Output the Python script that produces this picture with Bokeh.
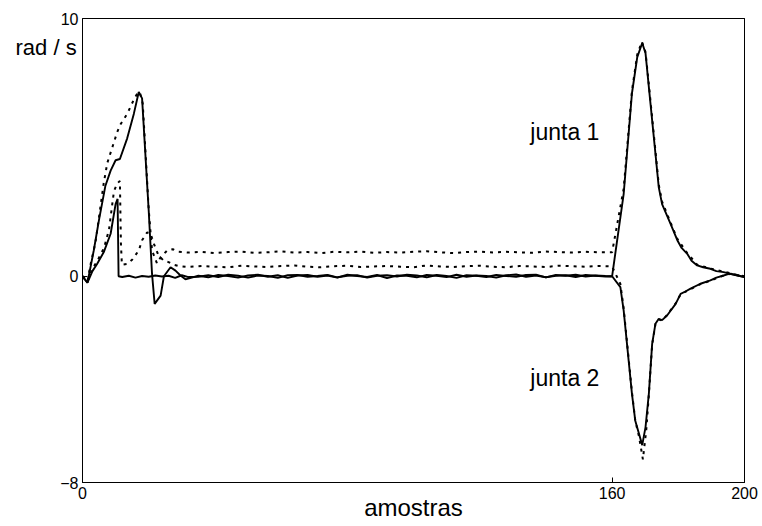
from bokeh.plotting import figure
from bokeh.models import Range1d, FixedTicker, LinearAxis, Label
from bokeh.embed import file_html
from bokeh.resources import INLINE

FONT = "Liberation Sans"

x_ticks = [0, 160, 200]
y_ticks = [-8, 0, 10]

# ---- shared sample positions for the quiet stretch ----
solid_flat_x = [35, 38, 41, 44, 47, 50, 53, 56, 59, 62, 65, 68, 71, 74, 77, 80, 83, 86, 89, 92, 95,
                98, 101, 104, 107, 110, 113, 116, 119, 122, 125, 128, 131, 134, 137, 140, 143, 146,
                149, 152, 155, 158]
dotted_flat_x = [32, 36, 40, 44, 48, 52, 56, 60, 64, 68, 72, 76, 80, 84, 88, 92, 96, 100, 104, 108,
                 112, 116, 120, 124, 128, 132, 136, 140, 144, 148, 152, 156]

# ---- junta 1, measured (solid) ----
j1_real_start_x = [0, 1.5, 3.4, 5, 6.9, 8.5, 10, 11.3, 13.5, 15.5, 17, 18, 20, 21, 21.8, 23.6, 24.6,
                   26.6, 28.1, 29.6, 31.1, 33]
j1_real_start_y = [0, -0.25, 1.0, 2.2, 3.5, 4.1, 4.5, 4.55, 5.35, 6.3, 7.15, 6.9, 2.55, 0.1, -1.07,
                   -0.75, 0.0, 0.35, 0.22, 0.03, -0.12, -0.05]
j1_real_flat_y = [0.02, -0.04, 0.05, 0.01, -0.05, 0.03, 0.06, -0.02, 0.04, -0.06,
                  0.03, 0.05, -0.02, 0.03, -0.05, 0.06, 0.01, -0.03, 0.05, -0.07,
                  0.03, 0.02, -0.04, 0.05, 0.02, -0.03, 0.06, -0.02, 0.03, 0.01,
                  -0.05, 0.04, 0.07, -0.02, 0.03, -0.04, 0.05, 0.02, 0.06, -0.01,
                  0.03, 0.01]
j1_real_end_x = [160, 163.5, 166, 167.6, 169.1, 170.1, 171.6, 173.1, 174.1, 175.1, 177.6, 179.7,
                 181, 182.7, 184, 185.7, 187.5, 189.7, 191.5, 193.7, 195.5, 197.8, 200]
j1_real_end_y = [0, 3.2, 7.1, 8.5, 9.05, 8.65, 6.7, 4.75, 3.45, 2.8, 2.05, 1.4, 1.1, 0.87, 0.6,
                 0.42, 0.35, 0.29, 0.2, 0.16, 0.1, 0.03, -0.03]

# ---- junta 2, measured (solid) ----
j2_real_start_x = [0, 1.5, 3, 4.4, 6.4, 8.5, 10, 10.6, 10.9, 12, 14, 16, 18, 20, 22, 24, 26, 28,
                   30, 32]
j2_real_start_y = [0, -0.25, 0.2, 0.48, 0.93, 1.65, 2.8, 3.0, 0.0, -0.03, 0.02, -0.05, 0.01, -0.02,
                   0.03, -0.01, 0.02, -0.06, 0.04, -0.03]
j2_real_flat_y = [-0.02, 0.04, -0.03, 0.06, 0.02, -0.05, 0.03, 0.01, -0.06, 0.04,
                  0.05, -0.02, 0.01, 0.05, -0.04, 0.02, 0.04, -0.05, 0.02, 0.04,
                  -0.01, 0.06, 0.03, -0.04, 0.05, 0.01, -0.06, 0.04, 0.02, -0.03,
                  0.05, 0.01, -0.02, 0.05, 0.06, -0.04, 0.02, 0.04, -0.03, 0.05,
                  0.02, -0.01]
j2_real_end_x = [160, 162.5, 163.5, 165, 166, 167, 168.1, 169.1, 170.1, 171.1, 172.1, 173.1, 174.1,
                 175.1, 176.6, 179.2, 180.7, 182, 183.7, 186.7, 189.7, 191.5, 193.7, 195.5, 197.5,
                 200]
j2_real_end_y = [0, -0.42, -1.33, -3.27, -4.56, -5.6, -6.1, -6.55, -5.85, -4.56, -2.62, -1.84, -1.65,
                 -1.7, -1.52, -1.07, -0.68, -0.6, -0.48, -0.29, -0.16, -0.05, 0.03, 0.1, 0.05, -0.03]

# ---- junta 1, reference (dotted) ----
j1_ref_start_x = [0, 1.5, 2.5, 3.9, 5, 6.4, 7.5, 9, 10.5, 11.5, 13.5, 15.5, 16.8, 17.4, 18.2, 20,
                  21, 22.5, 23.6, 25.6, 27.3, 29]
j1_ref_start_y = [0, -0.2, 0.5, 1.3, 2.3, 3.6, 4.4, 5.0, 5.6, 5.9, 6.3, 6.85, 7.15, 7.1, 6.7, 2.6,
                  1.0, 0.5, 0.74, 1.0, 1.05, 0.95]
j1_ref_flat_y = [0.92, 0.95, 0.9, 0.94, 0.96, 0.91, 0.93, 0.97, 0.92, 0.94,
                 0.9, 0.95, 0.93, 0.96, 0.91, 0.94, 0.92, 0.95, 0.97, 0.93,
                 0.9, 0.94, 0.96, 0.92, 0.95, 0.93, 0.91, 0.96, 0.94, 0.92,
                 0.95, 0.93]
j1_ref_end_x = [160, 163.5, 166, 167.6, 169, 170.1, 171.6, 173.1, 174.1, 175.1, 177.6, 179.7, 182.7,
                185.7, 189.7, 193.7, 197.8, 200]
j1_ref_end_y = [0.93, 3.4, 7.2, 8.6, 9.1, 8.7, 6.8, 4.85, 3.55, 2.9, 2.1, 1.45, 0.9, 0.45, 0.3,
                0.18, 0.05, 0.0]

# ---- junta 2, reference (dotted) ----
j2_ref_start_x = [0, 1.5, 3, 4.5, 6.5, 8, 9.5, 10.5, 11.3, 11.6, 11.9, 13.5, 15, 17, 18, 19.5, 20.5,
                  21.6, 23, 24.6, 26, 27.5, 29]
j2_ref_start_y = [0, -0.2, 0.3, 0.6, 1.1, 1.8, 3.3, 3.6, 3.7, 1.3, 0.45, 0.48, 0.64, 1.0, 1.4, 1.7,
                  1.68, 1.25, 0.8, 0.6, 0.55, 0.45, 0.4]
j2_ref_flat_y = [0.36, 0.4, 0.37, 0.35, 0.41, 0.38, 0.36, 0.4, 0.42, 0.37,
                 0.35, 0.39, 0.41, 0.36, 0.38, 0.4, 0.37, 0.35, 0.42, 0.38,
                 0.36, 0.39, 0.41, 0.37, 0.35, 0.4, 0.38, 0.36, 0.41, 0.39,
                 0.37, 0.4]
j2_ref_end_x = [160, 162.5, 163.5, 165, 166, 167, 168.1, 169.3, 170.3, 171.1, 172.1, 173.1, 174.1,
                175.1, 176.6, 179.2, 180.7, 183.7, 186.7, 189.7, 193.7, 196, 200]
j2_ref_end_y = [0.38, -0.3, -1.25, -3.2, -4.5, -5.6, -6.2, -7.1, -6.0, -4.6, -2.65, -1.85, -1.68,
                -1.72, -1.5, -1.05, -0.7, -0.5, -0.3, -0.17, 0.03, 0.1, -0.02]

series = [
    (j1_ref_start_x + dotted_flat_x + j1_ref_end_x, j1_ref_start_y + j1_ref_flat_y + j1_ref_end_y, "dot"),
    (j2_ref_start_x + dotted_flat_x + j2_ref_end_x, j2_ref_start_y + j2_ref_flat_y + j2_ref_end_y, "dot"),
    (j1_real_start_x + solid_flat_x + j1_real_end_x, j1_real_start_y + j1_real_flat_y + j1_real_end_y, "solid"),
    (j2_real_start_x + solid_flat_x + j2_real_end_x, j2_real_start_y + j2_real_flat_y + j2_real_end_y, "solid"),
]

p = figure(width=760, height=526, output_backend="svg", toolbar_location=None,
           title="rad / s",
           x_range=Range1d(0, 200), y_range=Range1d(-8, 10),
           min_border_left=82, min_border_right=16, min_border_top=18, min_border_bottom=44,
           background_fill_color="white", border_fill_color="white")
p.xgrid.visible = False
p.ygrid.visible = False
p.outline_line_color = "black"
p.outline_line_width = 1

# y-axis unit text, placed horizontally at the top-left like the original
p.title.align = "left"
p.title.vertical_align = "bottom"
p.title.offset = -67
p.title.standoff = -83
p.title.text_font = FONT
p.title.text_font_size = "22px"
p.title.text_font_style = "normal"
p.title.text_color = "black"

for xs, ys, style in series:
    if style == "dot":
        p.line(xs, ys, line_color="black", line_width=2, line_dash="3 5")
    else:
        p.line(xs, ys, line_color="black", line_width=1.9)

for ax, ticks in ((p.xaxis[0], x_ticks), (p.yaxis[0], y_ticks)):
    ax.ticker = FixedTicker(ticks=ticks, minor_ticks=[])
    ax.major_tick_in = 5
    ax.major_tick_out = 0
    ax.minor_tick_in = 0
    ax.minor_tick_out = 0
    ax.axis_line_color = "black"
    ax.major_tick_line_color = "black"
    ax.major_label_text_font = FONT
    ax.major_label_text_font_size = "16px"
    ax.major_label_text_color = "black"
    ax.major_label_standoff = 4

p.xaxis[0].axis_label = "amostras"
p.xaxis[0].axis_label_text_font = FONT
p.xaxis[0].axis_label_text_font_size = "24px"
p.xaxis[0].axis_label_text_font_style = "normal"
p.xaxis[0].axis_label_text_color = "black"
p.xaxis[0].axis_label_standoff = -8

# right-hand tick marks only (no labels)
right_axis = LinearAxis(ticker=FixedTicker(ticks=y_ticks, minor_ticks=[]), major_tick_in=5,
                        major_tick_out=0, minor_tick_in=0, minor_tick_out=0,
                        major_label_overrides={t: "" for t in y_ticks}, major_label_standoff=0)
p.add_layout(right_axis, "right")

labels = [
    ("junta 1", 135.3, 5.58),
    ("junta 2", 135.3, -3.93),
]
for txt, lx, ly in labels:
    p.add_layout(Label(x=lx, y=ly, text=txt, text_font=FONT, text_font_size="23px",
                       text_color="black", text_align="left", text_baseline="alphabetic"))

open("out.html", "w").write(file_html(p, INLINE))
